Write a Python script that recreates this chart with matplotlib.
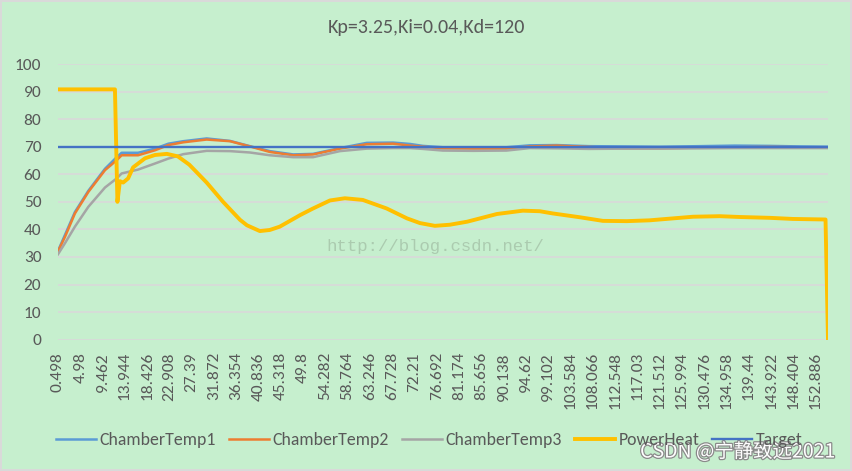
import matplotlib
matplotlib.use("Agg")
import matplotlib.pyplot as plt
from matplotlib import font_manager
import matplotlib.patheffects as pe

# ---------------- data ----------------
title = "Kp=3.25,Ki=0.04,Kd=120"
series_names = ["ChamberTemp1", "ChamberTemp2", "ChamberTemp3", "PowerHeat", "Target"]

x_tick_labels = ["0.498", "4.98", "9.462", "13.944", "18.426", "22.908", "27.39", "31.872",
                 "36.354", "40.836", "45.318", "49.8", "54.282", "58.764", "63.246", "67.728",
                 "72.21", "76.692", "81.174", "85.656", "90.138", "94.62", "99.102", "103.584",
                 "108.066", "112.548", "117.03", "121.512", "125.994", "130.476", "134.958",
                 "139.44", "143.922", "148.404", "152.886"]
y_ticks = [0, 10, 20, 30, 40, 50, 60, 70, 80, 90, 100]

temp_time = [0.498, 1.9, 3.9, 6.6, 9.95, 12.3, 13.3, 16.6, 20.0, 22.7, 25.7, 30.4, 35.1,
             39.1, 43.1, 47.8, 51.8, 57.2, 62.6, 67.9, 71.3, 73.9, 77.9, 84.0, 90.7, 95.4,
             100.8, 107.3, 114.5, 121.4, 129.6, 136.6, 143.7, 149.7, 155.376]
chamber_temp1 = [32.2, 38.0, 46.3, 54.0, 62.0, 66.2, 67.8, 67.8, 69.3, 71.1, 72.0, 73.0, 72.1,
                 70.2, 68.4, 67.2, 67.4, 69.5, 71.4, 71.5, 71.0, 70.3, 69.8, 69.7, 69.8, 70.5,
                 70.6, 70.2, 70.1, 70.0, 70.2, 70.4, 70.3, 70.1, 70.0]
chamber_temp2 = [32.0, 37.3, 45.8, 53.6, 61.5, 65.1, 66.9, 66.9, 68.7, 70.6, 71.6, 72.6, 72.0,
                 70.1, 68.1, 66.9, 67.2, 69.3, 70.9, 71.1, 70.4, 70.0, 69.4, 69.3, 69.3, 70.1,
                 70.4, 69.9, 69.4, 69.4, 69.7, 69.8, 69.9, 69.8, 69.8]
chamber_temp3 = [31.0, 35.0, 41.0, 48.2, 55.2, 58.5, 60.3, 61.7, 63.9, 65.7, 67.3, 68.5, 68.4,
                 67.9, 66.9, 66.2, 66.2, 68.4, 69.3, 69.5, 69.5, 69.2, 68.6, 68.5, 68.6, 69.5,
                 69.4, 69.2, 69.3, 69.3, 69.4, 69.5, 69.5, 69.5, 69.5]

power_time = [0.498, 11.952, 12.45, 12.948, 13.6, 14.6, 15.6, 18.0, 20.0, 22.4, 24.6, 26.9,
              30.4, 33.7, 37.1, 38.5, 41.1, 43.1, 45.1, 49.2, 51.8, 55.2, 58.2, 61.8, 66.6,
              70.7, 73.3, 76.3, 79.3, 82.8, 88.8, 94.0, 97.4, 100.0, 105.5, 110.1, 114.9,
              119.5, 128.2, 133.6, 137.7, 143.7, 148.3, 154.878, 155.376]
power_heat = [90.8, 90.8, 50.0, 57.5, 57.0, 58.5, 62.5, 65.8, 67.0, 67.4, 66.5, 63.5,
              57.0, 50.0, 43.5, 41.5, 39.4, 39.8, 41.0, 45.2, 47.6, 50.5, 51.3, 50.7, 47.6,
              44.0, 42.3, 41.3, 41.7, 42.8, 45.6, 46.8, 46.6, 45.8, 44.4, 43.1, 43.0,
              43.3, 44.6, 44.8, 44.5, 44.2, 43.8, 43.6, 0.0]

target_time = [0.498, 155.376]
target = [70, 70]

# ---------------- fonts ----------------
available = {f.name for f in font_manager.fontManager.ttflist}
def pick(*names):
    for n in names:
        if n in available:
            return n
    return "DejaVu Sans"
base_font = pick("Carlito", "Lato", "Liberation Sans")
mono_font = pick("Liberation Mono", "DejaVu Sans Mono")
plt.rcParams["font.family"] = [base_font, "DejaVu Sans"]

BG = "#C6EFCE"
TXT = "#595959"
GRID = "#D9D9D9"

W, H = 852, 471
fig = plt.figure(figsize=(W / 100, H / 100), dpi=100, facecolor=BG,
                 edgecolor=GRID, linewidth=1.5)
ax = fig.add_axes([58 / W, 1 - 339.7 / H, (828 - 58) / W, (339.7 - 64) / H])
ax.set_facecolor(BG)

colors = ["#5B9BD5", "#ED7D31", "#A5A5A5", "#FFC000", "#4472C4"]
ax.plot(temp_time, chamber_temp1, color=colors[0], lw=1.8, label=series_names[0], zorder=3)
ax.plot(temp_time, chamber_temp2, color=colors[1], lw=1.8, label=series_names[1], zorder=4)
ax.plot(temp_time, chamber_temp3, color=colors[2], lw=1.8, label=series_names[2], zorder=5)
ax.plot(power_time, power_heat, color=colors[3], lw=2.8, label=series_names[3], zorder=6,
        solid_joinstyle="round")
ax.plot(target_time, target, color=colors[4], lw=1.7, label=series_names[4], zorder=7)

ax.set_xlim(target_time[0], target_time[-1])
ax.set_ylim(y_ticks[0], y_ticks[-1])
ax.set_yticks(y_ticks)
ax.set_yticklabels([str(v) for v in y_ticks])
ax.set_xticks([float(s) for s in x_tick_labels])
ax.set_xticklabels(x_tick_labels, rotation=90, va="top", ha="center")
ax.tick_params(axis="both", length=0, colors=TXT, labelsize=12.5)
ax.tick_params(axis="y", pad=12)
ax.tick_params(axis="x", pad=9)
for s in ax.spines.values():
    s.set_visible(False)
ax.grid(axis="y", color=GRID, lw=1.2, zorder=0)
ax.set_axisbelow(True)

fig.text(0.5, 1 - 28 / H, title, ha="center", va="center", fontsize=14.4, color=TXT)

fig.legend(loc="center", bbox_to_anchor=(0.504, 1 - 440 / H), ncol=5, frameon=False,
           fontsize=12.8, handlelength=2.25, handletextpad=0.2, columnspacing=0.73,
           labelcolor=TXT)

# watermarks
fig.text(435 / W, 1 - 246 / H, "http://blog.csdn.net/", ha="center", va="center",
         fontsize=12.5, family=mono_font, color="#9DB89F", alpha=0.65)
fig.text(836 / W, 1 - 452 / H, "CSDN @宁静致远2021", ha="right", va="center",
         fontsize=14, family=["Noto Sans CJK SC", "DejaVu Sans"], color="#FFFFFF",
         path_effects=[pe.withStroke(linewidth=1.8, foreground="#8A8A8A")])

fig.savefig("out.png", dpi=100, facecolor=BG, edgecolor=GRID)
